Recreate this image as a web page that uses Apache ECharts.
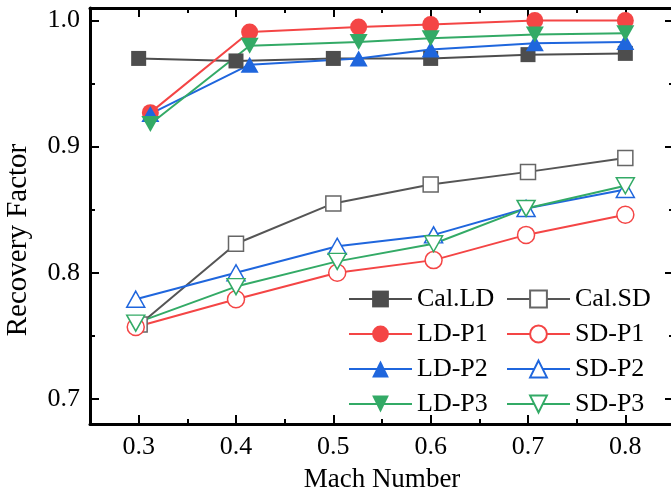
<!DOCTYPE html>
<html>
<head>
<meta charset="utf-8">
<script src="https://cdn.jsdelivr.net/npm/echarts@6/dist/echarts.min.js"></script>
<style>
  html, body { margin: 0; padding: 0; background: #ffffff; }
  #chart { width: 671px; height: 496px; }
</style>
</head>
<body>
<div id="chart"></div>
<script>
// Mach numbers at which each group was measured
const machCalLD = [0.3, 0.4, 0.5, 0.6, 0.7, 0.8];
const machCalSD = [0.301, 0.4, 0.5, 0.6, 0.7, 0.8];
const machLD = [0.312, 0.414, 0.526, 0.6, 0.707, 0.8];
const machSD = [0.297, 0.4, 0.504, 0.603, 0.698, 0.8];

// Recovery factor values
const calLD = [0.970, 0.968, 0.970, 0.970, 0.973, 0.974];
const calSD = [0.759, 0.823, 0.855, 0.870, 0.880, 0.891];
const ldP1 = [0.927, 0.991, 0.995, 0.997, 1.000, 1.000];
const ldP2 = [0.926, 0.965, 0.970, 0.977, 0.982, 0.983];
const ldP3 = [0.918, 0.980, 0.983, 0.986, 0.989, 0.990];
const sdP1 = [0.757, 0.779, 0.800, 0.810, 0.830, 0.846];
const sdP2 = [0.779, 0.800, 0.821, 0.830, 0.851, 0.866];
const sdP3 = [0.760, 0.789, 0.809, 0.823, 0.851, 0.869];

// Tick positions
const xMajor = [0.3, 0.4, 0.5, 0.6, 0.7, 0.8];
const xMinor = [0.35, 0.45, 0.55, 0.65, 0.75];
const yMajor = [0.7, 0.8, 0.9, 1.0];
const yMinor = [0.75, 0.85, 0.95];

const FONT = 'Liberation Serif';
const GRAY = '#4d4d4d';
const RED = '#f44545';
const BLUE = '#1f66dd';
const GREEN = '#33aa66';

const pairs = (xs, ys) => xs.map((x, i) => [x, ys[i]]);
const downTri = 'path://M0,0 L20,0 L10,18 Z';

function axisPair(position, major, minor, withLabels, range) {
  const base = {
    type: 'value',
    position: position,
    min: range[0],
    max: range[1],
    splitLine: { show: false },
    axisPointer: { show: false }
  };
  const majorAxis = Object.assign({}, base, {
    axisLine: { show: true, onZero: false, lineStyle: { color: '#000', width: 3 } },
    axisTick: { show: true, inside: true, length: 9, customValues: major, lineStyle: { color: '#000', width: 2 } },
    axisLabel: withLabels
      ? { show: true, customValues: major, margin: 10, color: '#000', fontFamily: FONT, fontSize: 26,
          formatter: v => v.toFixed(1) }
      : { show: false }
  });
  const minorAxis = Object.assign({}, base, {
    axisLine: { show: false, onZero: false },
    axisTick: { show: true, inside: true, length: 5, customValues: minor, lineStyle: { color: '#000', width: 2 } },
    axisLabel: { show: false }
  });
  return [majorAxis, minorAxis];
}

const xRange = [0.25, 0.85];
const yRange = [0.68, 1.01];

const xAxes = [
  ...axisPair('bottom', xMajor, xMinor, true, xRange),
  ...axisPair('top', xMajor, xMinor, false, xRange)
];
Object.assign(xAxes[0], {
  name: 'Mach Number', nameLocation: 'middle', nameGap: 42,
  nameTextStyle: { color: '#000', fontFamily: FONT, fontSize: 27 }
});

const yAxes = [
  ...axisPair('left', yMajor, yMinor, true, yRange),
  ...axisPair('right', yMajor, yMinor, false, yRange)
];
Object.assign(yAxes[0], {
  name: 'Recovery Factor', nameLocation: 'middle', nameGap: 57, nameRotate: 90,
  nameTextStyle: { color: '#000', fontFamily: FONT, fontSize: 29, padding: [0, 48, 0, 0] }
});

function makeSeries(name, xs, ys, color, symbol, size, hollow) {
  return {
    name: name,
    type: 'line',
    data: pairs(xs, ys),
    symbol: symbol,
    symbolSize: size,
    showAllSymbol: true,
    lineStyle: { color: hollow === 'gray' ? '#555555' : color, width: 2 },
    itemStyle: hollow
      ? { color: '#ffffff', borderColor: hollow === 'gray' ? '#666666' : color, borderWidth: 1.5 }
      : { color: color, borderWidth: 0 },
    emphasis: { disabled: true },
    xAxisIndex: 0,
    yAxisIndex: 0
  };
}

const series = [
  makeSeries('Cal.LD', machCalLD, calLD, GRAY, 'rect', 15, false),
  makeSeries('Cal.SD', machCalSD, calSD, GRAY, 'rect', 15, 'gray'),
  makeSeries('LD-P1', machLD, ldP1, RED, 'circle', 17, false),
  makeSeries('SD-P1', machSD, sdP1, RED, 'circle', 17, true),
  makeSeries('LD-P2', machLD, ldP2, BLUE, 'triangle', [18, 16], false),
  makeSeries('SD-P2', machSD, sdP2, BLUE, 'triangle', [18, 16], true),
  makeSeries('LD-P3', machLD, ldP3, GREEN, downTri, [18, 16], false),
  makeSeries('SD-P3', machSD, sdP3, GREEN, downTri, [18, 16], true)
];

const legendCommon = {
  orient: 'vertical',
  top: 281,
  itemWidth: 63,
  itemHeight: 21,
  itemGap: 9,
  selectedMode: false,
  textStyle: { color: '#000', fontFamily: FONT, fontSize: 26, lineHeight: 26 }
};

const option = {
  animation: false,
  backgroundColor: '#ffffff',
  grid: { left: 90, top: 8, width: 584, height: 416, outerBoundsMode: 'none', containLabel: false },
  xAxis: xAxes,
  yAxis: yAxes,
  legend: [
    Object.assign({ left: 343, data: ['Cal.LD', 'LD-P1', 'LD-P2', 'LD-P3'] }, legendCommon),
    Object.assign({ left: 501, data: ['Cal.SD', 'SD-P1', 'SD-P2', 'SD-P3'] }, legendCommon)
  ],
  series: series
};

const chart = echarts.init(document.getElementById('chart'), null, { renderer: 'canvas' });
chart.setOption(option);
</script>
</body>
</html>
